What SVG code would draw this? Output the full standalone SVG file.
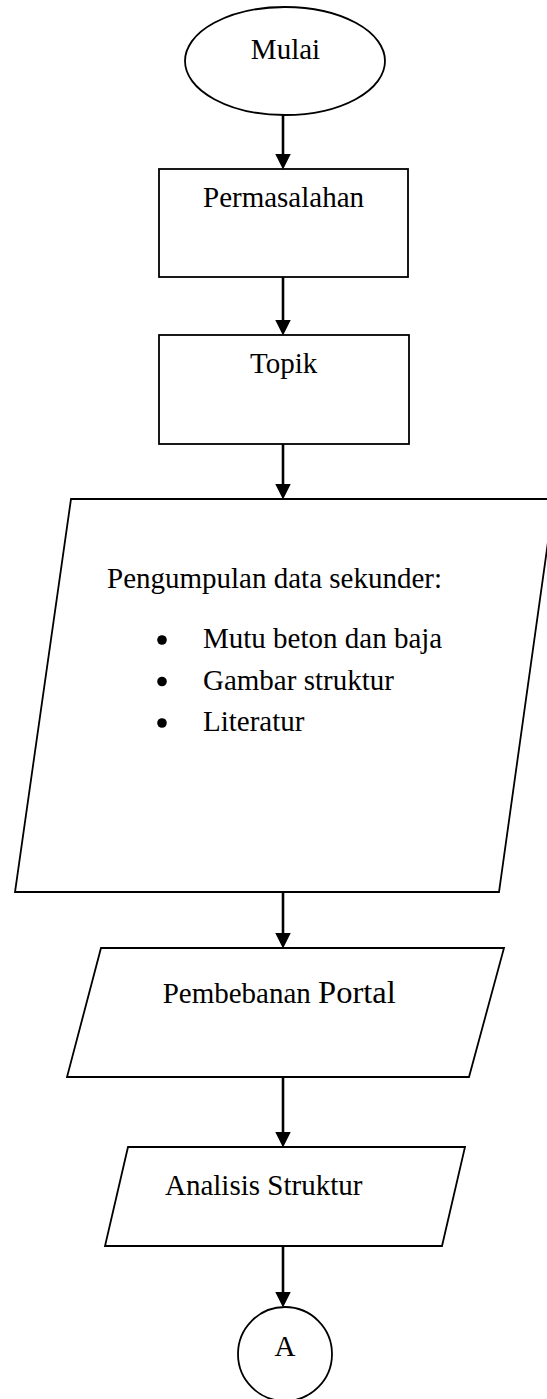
<svg xmlns="http://www.w3.org/2000/svg" width="547" height="1399" viewBox="0 0 547 1399">
  <style>
    .shape { fill: #ffffff; stroke: #000000; stroke-width: 1.8; }
    .conn { fill: none; stroke: #000000; stroke-width: 2.6; marker-end: url(#arrow); }
    .label { font-family: "Liberation Serif", "Times New Roman", serif; font-size: 29px; fill: #000000; }
    .bullet { fill: #000000; }
  </style>
  <defs>
    <marker id="arrow" markerUnits="userSpaceOnUse" markerWidth="16" markerHeight="16" viewBox="0 0 15 15" refX="7" refY="7.5" orient="auto">
      <path d="M0,0 L15,7.5 L0,15 z" fill="#000000"/>
    </marker>
  </defs>
  <rect x="0" y="0" width="547" height="1399" fill="#ffffff"/>

  <g id="connectors">
    <line class="conn" x1="283" y1="115" x2="283" y2="161"/>
    <line class="conn" x1="283" y1="277" x2="283" y2="327"/>
    <line class="conn" x1="283" y1="444" x2="283" y2="491"/>
    <line class="conn" x1="283" y1="892" x2="283" y2="940"/>
    <line class="conn" x1="283" y1="1077" x2="283" y2="1139"/>
    <line class="conn" x1="283" y1="1246" x2="283" y2="1299"/>
  </g>

  <g id="node-mulai">
    <ellipse class="shape" cx="285" cy="61" rx="100" ry="54"/>
    <text class="label" x="285.5" y="59" text-anchor="middle">Mulai</text>
  </g>

  <g id="node-permasalahan">
    <rect class="shape" x="159" y="169" width="249" height="108"/>
    <text class="label" x="203" y="207">Permasalahan</text>
  </g>

  <g id="node-topik">
    <rect class="shape" x="159" y="335" width="250" height="109"/>
    <text class="label" x="250" y="373">Topik</text>
  </g>

  <g id="node-pengumpulan">
    <polygon class="shape" points="71,499 554,499 499,892 15,892"/>
    <text class="label" x="107" y="588">Pengumpulan data sekunder:</text>
    <circle class="bullet" cx="162" cy="640" r="4.8"/>
    <text class="label" x="203" y="648">Mutu beton dan baja</text>
    <circle class="bullet" cx="162" cy="681.5" r="4.8"/>
    <text class="label" x="203" y="689.5">Gambar struktur</text>
    <circle class="bullet" cx="162" cy="723" r="4.8"/>
    <text class="label" x="203" y="731">Literatur</text>
  </g>

  <g id="node-pembebanan">
    <polygon class="shape" points="101,948 504,948 469,1077 67,1077"/>
    <text class="label" x="162.7" y="1002.7">Pembebanan <tspan font-size="32.5">Portal</tspan></text>
  </g>

  <g id="node-analisis">
    <polygon class="shape" points="128,1147 465,1147 442,1246 105,1246"/>
    <text class="label" x="165" y="1195">Analisis Struktur</text>
  </g>

  <g id="node-a">
    <circle class="shape" cx="285" cy="1354" r="47"/>
    <text class="label" x="285" y="1356" text-anchor="middle">A</text>
  </g>
</svg>
